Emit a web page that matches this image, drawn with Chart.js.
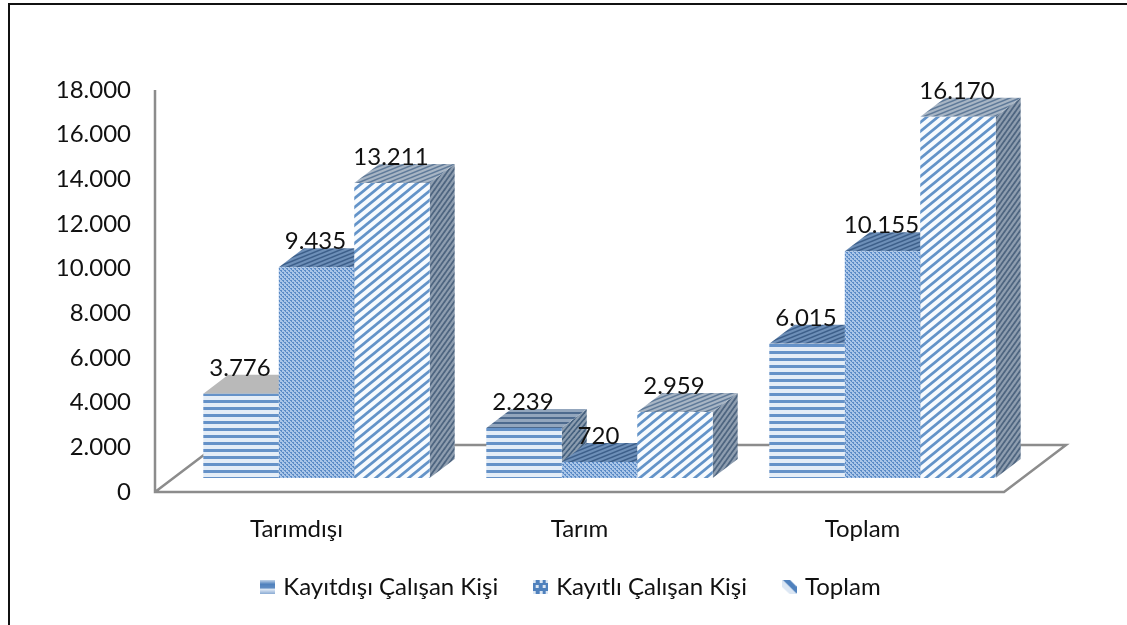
<!DOCTYPE html>
<html><head><meta charset="utf-8">
<style>html,body{margin:0;padding:0;background:#fff}canvas{display:block}#w{position:relative;width:1127px;height:625px;overflow:hidden}
#f{position:absolute;left:8px;top:3px;width:1200px;height:800px;border:2px solid #111;box-sizing:border-box;pointer-events:none}
body{overflow:hidden}</style>
<script src="https://cdn.jsdelivr.net/npm/chart.js@4"></script></head>
<body><div id="w"><canvas id="c" width="1127" height="625"></canvas><div id="f"></div></div>
<script>
const categories = ['Tarımdışı', 'Tarım', 'Toplam'];
const seriesNames = ['Kayıtdışı Çalışan Kişi', 'Kayıtlı Çalışan Kişi', 'Toplam'];
const kayitdisi = [3776, 2239, 6015];
const kayitli = [9435, 720, 10155];
const toplam = [13211, 2959, 16170];
const FONT = 'Lato, Carlito, sans-serif';
const fmt = v => String(v).replace(/\B(?=(\d{3})+$)/g, '.');

function tileCanvas(w, h, draw) {
  const c = document.createElement('canvas'); c.width = w; c.height = h;
  draw(c.getContext('2d'), w, h);
  return c;
}
function tile(w, h, draw) {
  return document.createElement('canvas').getContext('2d').createPattern(tileCanvas(w, h, draw), 'repeat');
}
function hStripes(bg, fg, p, t) {
  return tile(4, p, (g, w, h) => { g.fillStyle = bg; g.fillRect(0, 0, w, h); g.fillStyle = fg; g.fillRect(0, 1, w, t); });
}
function diag(bg, fg, lw, w, h) {
  return tile(w, h, (g) => {
    g.fillStyle = bg; g.fillRect(0, 0, w, h); g.strokeStyle = fg; g.lineWidth = lw;
    for (let i = -2; i <= 2; i++) { g.beginPath(); g.moveTo(i * w - w, 2 * h); g.lineTo(i * w + 2 * w, -h); g.stroke(); }
  });
}
function dots(bg, fg) {
  return tile(4, 4, (g) => { g.fillStyle = bg; g.fillRect(0, 0, 4, 4); g.fillStyle = fg; g.fillRect(0, 0, 2, 1); g.fillRect(2, 2, 2, 1); g.fillRect(1, 1, 1, 1); g.fillRect(3, 3, 1, 1); });
}
const fronts = [hStripes('#e4edf7', '#6592c8', 7, 3), dots('#a9c5e8', '#5b8bc6'), diag('#f8fbfe', '#6393c8', 2.8, 11, 9)];
const topFaces = [
  ['#b9b9b9', hStripes('#93a6bd', '#4d6a8e', 5, 2), diag('#6d8fb8', '#3d5f8a', 1.6, 10, 4)],
  [diag('#6d8fb8', '#3d5f8a', 1.6, 10, 4), diag('#6d8fb8', '#3d5f8a', 1.6, 10, 4), diag('#6d8fb8', '#3d5f8a', 1.6, 10, 4)],
  [diag('#a8b5c4', '#5f7a99', 1.6, 10, 4), diag('#a8b5c4', '#5f7a99', 1.6, 10, 4), diag('#a8b5c4', '#5f7a99', 1.6, 10, 4)]
];
const sides = [diag('#8c9db0', '#44607e', 1.6, 5, 6), diag('#6b86a6', '#3a5878', 1.6, 5, 6), diag('#8f9eb0', '#4e6580', 1.8, 5, 7)];
const DX = 25, DY = 19, SHIFT_X = 20, SHIFT_Y = 14, FLOOR = '#8c8c8c';

const icons = [
  tileCanvas(15, 14, (g) => {
    const gr = g.createLinearGradient(0, 0, 0, 14);
    gr.addColorStop(0, '#c3d5ea'); gr.addColorStop(.3, '#4f81bd'); gr.addColorStop(.55, '#5f8cc2'); gr.addColorStop(.68, '#dce7f4'); gr.addColorStop(1, '#8aabd4');
    g.fillStyle = gr; g.fillRect(0, 0, 15, 14);
  }),
  tileCanvas(15, 14, (g) => {
    g.fillStyle = '#4f81bd'; g.fillRect(0, 0, 15, 14); g.fillStyle = '#dce7f4';
    [[0, 0], [7, 0], [13, 0], [3, 5], [10, 5], [0, 11], [7, 11], [13, 11]].forEach(p => g.fillRect(p[0], p[1], 3, 3));
  }),
  tileCanvas(15, 14, (g) => {
    g.fillStyle = '#fff'; g.fillRect(0, 0, 15, 14); g.strokeStyle = '#dce7f4'; g.lineWidth = 8;
    g.beginPath(); g.moveTo(-2, -1); g.lineTo(15, 15); g.stroke();
    g.strokeStyle = '#4f81bd'; g.lineWidth = 5;
    g.beginPath(); g.moveTo(3, -2); g.lineTo(17, 12); g.stroke();
  })
];

const threeD = {
  id: 'threeD',
  afterLayout(ch) {
    const l = ch.legend;
    l.left += 70; l.right += 70; l.top -= 15; l.bottom -= 15;
    l.adjustHitBoxes();
  },
  beforeDatasetsDraw(ch) {
    const g = ch.ctx, a = ch.chartArea;
    g.save(); g.strokeStyle = FLOOR; g.lineWidth = 2.5; g.lineJoin = 'miter';
    g.beginPath();
    g.moveTo(a.left, a.top); g.lineTo(a.left, a.bottom); g.lineTo(a.right, a.bottom);
    g.lineTo(a.right + 62, a.bottom - 47); g.lineTo(a.left + 62, a.bottom - 47); g.lineTo(a.left, a.bottom);
    g.stroke(); g.restore();
    g.save(); g.translate(SHIFT_X, -SHIFT_Y);
    // side and top faces, derived from the bar elements
    [0, 1, 2].forEach(di => {
      ch.getDatasetMeta(di).data.forEach((b, i) => {
        const p = b.getProps(['x', 'y', 'base', 'width'], true);
        const l = p.x - p.width / 2, r = p.x + p.width / 2;
        g.fillStyle = sides[di];
        g.beginPath(); g.moveTo(r, p.y); g.lineTo(r + DX, p.y - DY); g.lineTo(r + DX, p.base - DY); g.lineTo(r, p.base); g.closePath(); g.fill();
        g.fillStyle = topFaces[di][i];
        g.beginPath(); g.moveTo(l, p.y); g.lineTo(l + DX, p.y - DY); g.lineTo(r + DX, p.y - DY); g.lineTo(r, p.y); g.closePath(); g.fill();
      });
    });
  },
  afterDatasetsDraw(ch) {
    const g = ch.ctx;
    g.fillStyle = '#111'; g.font = '24px ' + FONT; g.textAlign = 'center'; g.textBaseline = 'alphabetic';
    ch.data.datasets.forEach((d, di) => ch.getDatasetMeta(di).data.forEach((b, i) => {
      g.fillText(fmt(d.data[i]), b.x - 1, b.y - 18);
    }));
    g.restore();
  }
};
new Chart(document.getElementById('c'), {
  type: 'bar',
  data: {
    labels: categories,
    datasets: [
      { label: seriesNames[0], data: kayitdisi, backgroundColor: fronts[0] },
      { label: seriesNames[1], data: kayitli, backgroundColor: fronts[1] },
      { label: seriesNames[2], data: toplam, backgroundColor: fronts[2] }
    ]
  },
  options: {
    responsive: false, animation: false,
    layout: { padding: { left: 0, right: 123, top: 90, bottom: 1 } },
    datasets: { bar: { categoryPercentage: 0.8, barPercentage: 1, clip: false } },
    scales: {
      x: { grid: { display: false, drawTicks: false }, border: { display: false },
        ticks: { color: '#111', font: { family: FONT, size: 24 }, padding: 23, maxRotation: 0 },
        afterFit(s) { s.height = 60; } },
      y: { min: 0, max: 18000, grid: { display: false, drawTicks: false }, border: { display: false },
        ticks: { stepSize: 2000, color: '#111', font: { family: FONT, size: 24 }, padding: 24, callback: v => fmt(v) },
        afterFit(s) { s.width = 155; } }
    },
    plugins: {
      tooltip: { enabled: false },
      legend: { position: 'bottom', labels: { color: '#111', font: { family: FONT, size: 24 }, boxWidth: 8, boxHeight: 14, padding: 38, usePointStyle: true,
        generateLabels: ch => ch.data.datasets.map((d, i) => ({ text: d.label, pointStyle: icons[i], datasetIndex: i, fontColor: '#111', lineWidth: 0, strokeStyle: 'transparent', fillStyle: 'transparent' })) } }
    }
  },
  plugins: [threeD]
});
</script></body></html>
